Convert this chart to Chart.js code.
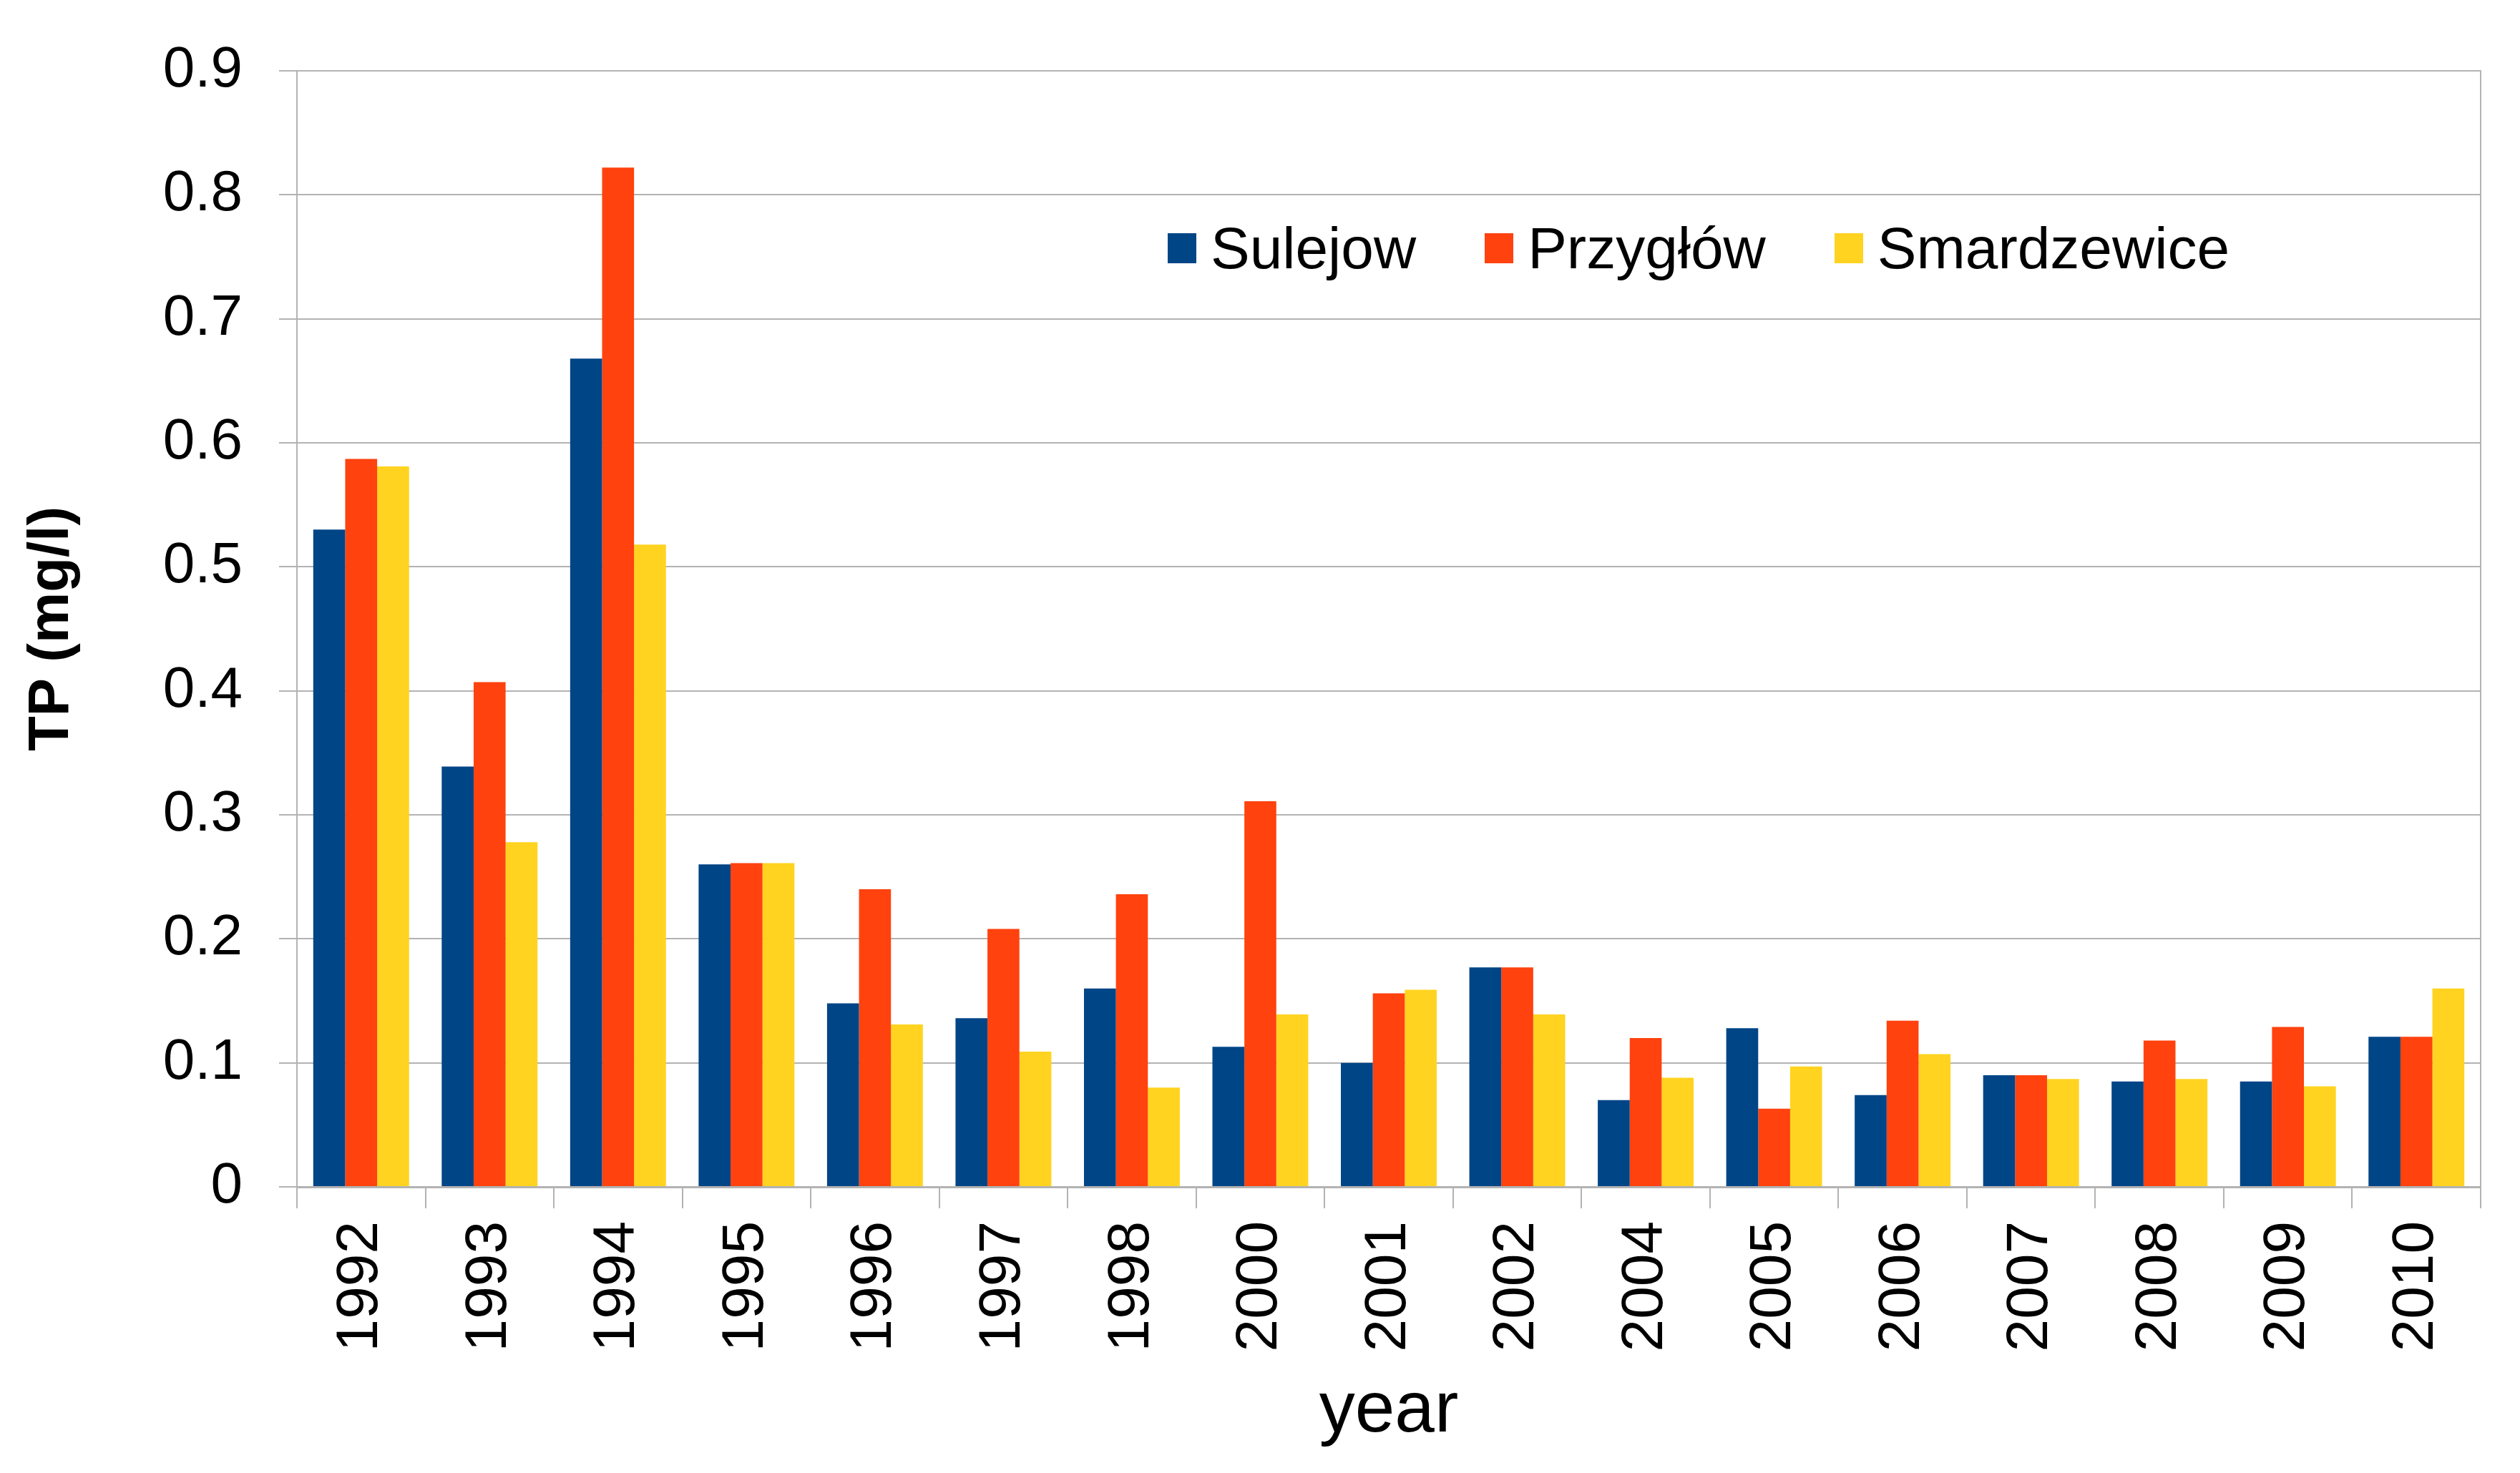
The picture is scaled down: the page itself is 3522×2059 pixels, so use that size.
<!DOCTYPE html>
<html>
<head>
<meta charset="utf-8">
<script src="https://cdn.jsdelivr.net/npm/chart.js@4/dist/chart.umd.min.js"></script>
<style>
  html, body { margin: 0; padding: 0; background: #fff; }
  #wrap { position: relative; width: 3522px; height: 2059px; }
  #legend {
    position: absolute; left: 1632px; top: 300px;
    display: flex; align-items: center;
    font-family: "Liberation Sans", Arial, sans-serif; font-size: 82px; color: #000;
  }
  #legend .item { display: flex; align-items: center; margin-right: 96px; }
  #legend .box { width: 40px; height: 42px; margin-right: 20px; }
</style>
</head>
<body>
<div id="wrap">
  <canvas id="chart" width="3522" height="2059"></canvas>
  <div id="legend"></div>
</div>
<script>
const years = ['1992', '1993', '1994', '1995', '1996', '1997', '1998', '2000', '2001',
  '2002', '2004', '2005', '2006', '2007', '2008', '2009', '2010'];
const sulejow = [0.530, 0.339, 0.668, 0.260, 0.148, 0.136, 0.160, 0.113, 0.100,
  0.177, 0.070, 0.128, 0.074, 0.090, 0.085, 0.085, 0.121];
const przyglow = [0.587, 0.407, 0.822, 0.261, 0.240, 0.208, 0.236, 0.311, 0.156,
  0.177, 0.120, 0.063, 0.134, 0.090, 0.118, 0.129, 0.121];
const smardzewice = [0.581, 0.278, 0.518, 0.261, 0.131, 0.109, 0.080, 0.139, 0.159,
  0.139, 0.088, 0.097, 0.107, 0.087, 0.087, 0.081, 0.160];
const yTicks = [0, 0.1, 0.2, 0.3, 0.4, 0.5, 0.6, 0.7, 0.8, 0.9];

const FONT = '"Liberation Sans", Arial, sans-serif';
const GRID = '#b3b3b3';

const datasets = [
  { label: 'Sulejow', data: sulejow, backgroundColor: '#004586' },
  { label: 'Przygłów', data: przyglow, backgroundColor: '#ff420e' },
  { label: 'Smardzewice', data: smardzewice, backgroundColor: '#ffd320' }
];

// legend sits inside the plot area, so build it as html
const legendEl = document.getElementById('legend');
datasets.forEach(ds => {
  const item = document.createElement('div');
  item.className = 'item';
  const box = document.createElement('div');
  box.className = 'box';
  box.style.background = ds.backgroundColor;
  const txt = document.createElement('span');
  txt.textContent = ds.label;
  item.appendChild(box);
  item.appendChild(txt);
  legendEl.appendChild(item);
});

const ctx = document.getElementById('chart').getContext('2d');
new Chart(ctx, {
  type: 'bar',
  data: {
    labels: years,
    datasets: datasets.map(ds => ({
      ...ds,
      borderWidth: 0,
      categoryPercentage: 0.746,
      barPercentage: 1.0
    }))
  },
  options: {
    responsive: false,
    devicePixelRatio: 1,
    animation: false,
    layout: {
      padding: { left: 0, top: 85, right: 55, bottom: 0 }
    },
    plugins: {
      legend: { display: false },
      tooltip: { enabled: false }
    },
    scales: {
      x: {
        afterFit: function(scale) { scale.height = 400; },
        grid: {
          offset: true,
          drawOnChartArea: false,
          color: GRID,
          lineWidth: 2,
          tickLength: 30
        },
        border: { color: GRID, width: 3 },
        ticks: {
          color: '#000',
          font: { family: FONT, size: 82 },
          minRotation: 90,
          maxRotation: 90,
          padding: 18,
          autoSkip: false
        },
        title: {
          display: true,
          text: 'year',
          color: '#000',
          font: { family: FONT, size: 100 },
          padding: { top: 0, bottom: 26 }
        }
      },
      y: {
        min: 0,
        max: 0.9,
        afterFit: function(scale) { scale.width = 415; },
        afterBuildTicks: function(scale) {
          scale.ticks = yTicks.map(v => ({ value: v }));
        },
        grid: {
          color: GRID,
          lineWidth: 2,
          tickLength: 25
        },
        border: { color: GRID, width: 2 },
        ticks: {
          color: '#000',
          font: { family: FONT, size: 80 },
          padding: 51,
          callback: function(value) {
            return value === 0 ? '0' : value.toFixed(1);
          }
        },
        title: {
          display: true,
          text: 'TP (mg/l)',
          color: '#000',
          font: { family: FONT, size: 80, weight: 'bold' },
          padding: { top: 25, bottom: 0 }
        }
      },
      yRight: {
        position: 'right',
        min: 0,
        max: 0.9,
        afterFit: function(scale) { scale.width = 0; },
        grid: { drawOnChartArea: false, drawTicks: false },
        border: { color: GRID, width: 2 },
        ticks: { display: false }
      }
    }
  }
});
</script>
</body>
</html>
